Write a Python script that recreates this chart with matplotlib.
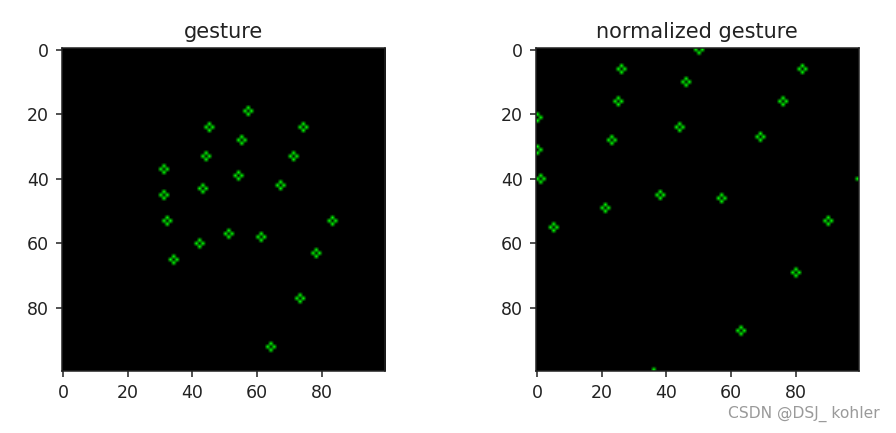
import numpy as np
import matplotlib
matplotlib.use("Agg")
import matplotlib.pyplot as plt

# gesture points (column x, row y) in the 100x100 image
gesture_x = [57, 45, 74, 55, 44, 71, 31, 54, 67, 43, 31, 32, 83, 51, 61, 42, 78, 34, 73, 64]
gesture_y = [19, 24, 24, 28, 33, 33, 37, 39, 42, 43, 45, 53, 53, 57, 58, 60, 63, 65, 77, 92]

# normalized gesture points
norm_x = [50, 26, 82, 46, 25, 76, 0, 44, 23, 69, 0, 1, 100, 36, 38, 57, 21, 5, 90, 80, 63]
norm_y = [0, 6, 6, 10, 16, 16, 21, 24, 28, 27, 31, 40, 40, 100, 45, 46, 49, 55, 53, 69, 87]

titles = ["gesture", "normalized gesture"]
ticks = [0, 20, 40, 60, 80]
SIZE = 100
GREEN = (0, 255, 0)


def render(xs, ys):
    img = np.zeros((SIZE, SIZE, 3), dtype=np.uint8)
    for x, y in zip(xs, ys):
        for dx, dy in [(-1, 0), (1, 0), (0, -1), (0, 1)]:
            px, py = x + dx, y + dy
            if 0 <= px < SIZE and 0 <= py < SIZE:
                img[py, px] = GREEN
    return img


fig = plt.figure(figsize=(8.96, 4.33), dpi=100)
positions = [[61 / 896, 1 - 371 / 433, 324 / 896, 323 / 433],
             [535 / 896, 1 - 371 / 433, 324 / 896, 323 / 433]]
data = [(gesture_x, gesture_y), (norm_x, norm_y)]
for pos, (xs, ys), title in zip(positions, data, titles):
    ax = fig.add_axes(pos)
    ax.imshow(render(xs, ys), interpolation="bilinear")
    ax.set_xticks(ticks)
    ax.set_yticks(ticks)
    ax.tick_params(labelsize=12.5, length=4.5, width=1.1, pad=4.5, colors="#222222")
    for s in ax.spines.values():
        s.set_linewidth(1.1)
        s.set_color("#222222")
    ax.set_title(title, fontsize=15, pad=7, color="#222222")

fig.text(0.982, 0.025, "CSDN @DSJ_ kohler", ha="right", va="bottom",
         color="#9a9a9a", fontsize=11.2)
fig.savefig("out.png", dpi=100)
